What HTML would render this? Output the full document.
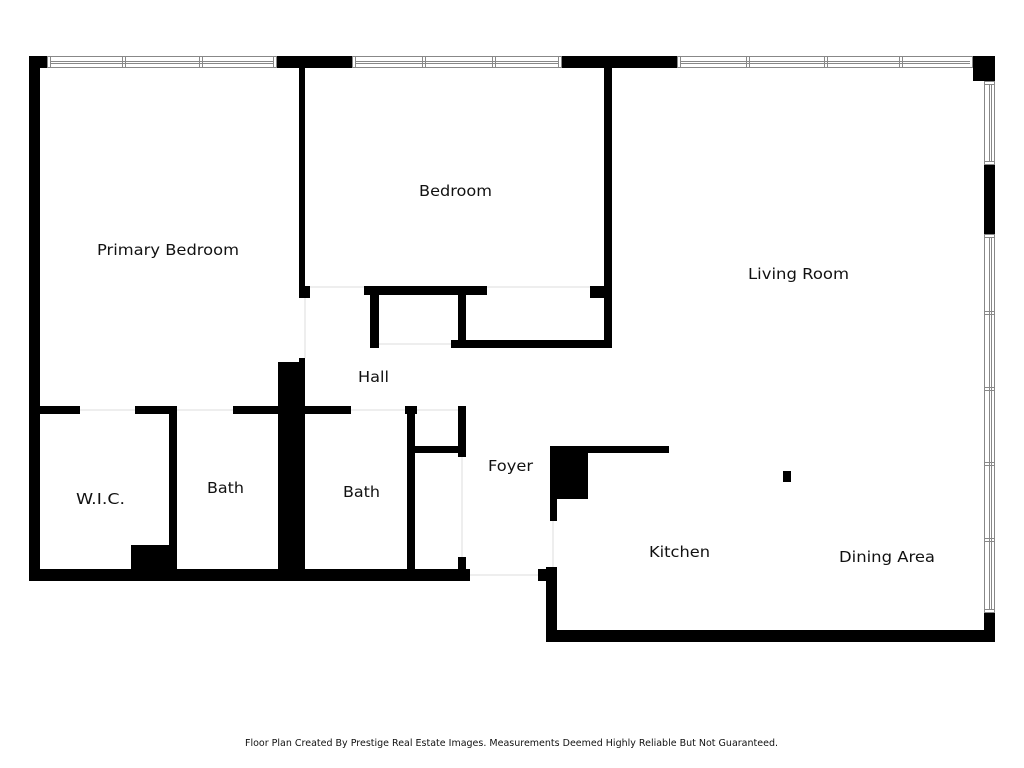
<!DOCTYPE html>
<html><head><meta charset="utf-8"><style>
html,body{margin:0;padding:0;background:#fff;}
svg{display:block;}
text{font-family:"DejaVu Sans","Liberation Sans",sans-serif;fill:#111;}
</style></head><body>
<svg width="1024" height="768" viewBox="0 0 1024 768" xmlns="http://www.w3.org/2000/svg">
<rect width="1024" height="768" fill="#fff"/>
<g fill="#000">
<!-- top wall black parts -->
<rect x="29" y="56" width="18" height="12"/>
<rect x="277" y="56" width="75" height="12"/>
<rect x="562" y="56" width="115" height="12"/>
<rect x="973" y="56" width="22" height="25"/>
<!-- right wall black -->
<rect x="984" y="165" width="11" height="69"/>
<rect x="984" y="613" width="11" height="29"/>
<!-- left wall -->
<rect x="29" y="56" width="11" height="525"/>
<!-- bottom left wall -->
<rect x="29" y="569" width="441" height="12"/>
<rect x="538" y="569" width="19" height="12"/>
<!-- kitchen walls -->
<rect x="546" y="567" width="11" height="75"/>
<rect x="546" y="630" width="449" height="12"/>
<rect x="550" y="446" width="7" height="75"/>
<rect x="550" y="446" width="38" height="53"/>
<rect x="550" y="446" width="119" height="7"/>
<rect x="783" y="471" width="8" height="11"/>
<!-- primary / bedroom divider -->
<rect x="299" y="56" width="6" height="242"/>
<rect x="299" y="286" width="11" height="12"/>
<rect x="278" y="362" width="27" height="219"/>
<rect x="299" y="358" width="6" height="10"/>
<!-- bedroom right wall -->
<rect x="604" y="56" width="8" height="292"/>
<rect x="590" y="286" width="14" height="12"/>
<!-- closet -->
<rect x="364" y="286" width="123" height="9"/>
<rect x="370" y="286" width="9" height="62"/>
<rect x="458" y="286" width="8" height="62"/>
<rect x="451" y="340" width="161" height="8"/>
<!-- horizontal wall y 406-414 -->
<rect x="40" y="406" width="40" height="8"/>
<rect x="135" y="406" width="42" height="8"/>
<rect x="169" y="406" width="8" height="175"/>
<rect x="131" y="545" width="46" height="36"/>
<rect x="233" y="406" width="45" height="8"/>
<rect x="305" y="406" width="46" height="8"/>
<rect x="405" y="406" width="12" height="8"/>
<rect x="407" y="406" width="8" height="175"/>
<rect x="458" y="406" width="8" height="51"/>
<rect x="415" y="446" width="51" height="7"/>
<rect x="458" y="557" width="8" height="12"/>
</g>
<!-- thin door lines -->
<g stroke="#ddd" stroke-width="1" fill="none">
<line x1="80" y1="410" x2="135" y2="410"/>
<line x1="177" y1="410" x2="233" y2="410"/>
<line x1="351" y1="410" x2="405" y2="410"/>
<line x1="417" y1="410" x2="458" y2="410"/>
<line x1="305" y1="298" x2="305" y2="358"/>
<line x1="310" y1="287" x2="364" y2="287"/>
<line x1="487" y1="287" x2="590" y2="287"/>
<line x1="379" y1="344" x2="451" y2="344"/>
<line x1="462" y1="457" x2="462" y2="557"/>
<line x1="470" y1="575" x2="538" y2="575"/>
<line x1="553" y1="521" x2="553" y2="567"/>
</g>
<!-- windows -->
<g fill="#fff" stroke="#888" stroke-width="1">
<rect x="47.5" y="56.5" width="229" height="11"/>
<rect x="352.5" y="56.5" width="209" height="11"/>
<rect x="677.5" y="56.5" width="295" height="11"/>
<rect x="984.5" y="81.5" width="10" height="83"/>
<rect x="984.5" y="234.5" width="10" height="378"/>
</g>
<g stroke="#888" stroke-width="1" fill="none">
<line x1="50" y1="61.5" x2="274" y2="61.5"/><line x1="50" y1="63.5" x2="274" y2="63.5"/>
<line x1="355" y1="61.5" x2="559" y2="61.5"/><line x1="355" y1="63.5" x2="559" y2="63.5"/>
<line x1="680" y1="61.5" x2="970" y2="61.5"/><line x1="680" y1="63.5" x2="970" y2="63.5"/>
<line x1="50.5" y1="57" x2="50.5" y2="67"/><line x1="273.5" y1="57" x2="273.5" y2="67"/>
<line x1="122.5" y1="57" x2="122.5" y2="67"/><line x1="125.5" y1="57" x2="125.5" y2="67"/>
<line x1="199.5" y1="57" x2="199.5" y2="67"/><line x1="202.5" y1="57" x2="202.5" y2="67"/>
<line x1="355.5" y1="57" x2="355.5" y2="67"/><line x1="558.5" y1="57" x2="558.5" y2="67"/>
<line x1="422.5" y1="57" x2="422.5" y2="67"/><line x1="425.5" y1="57" x2="425.5" y2="67"/>
<line x1="492.5" y1="57" x2="492.5" y2="67"/><line x1="495.5" y1="57" x2="495.5" y2="67"/>
<line x1="680.5" y1="57" x2="680.5" y2="67"/>
<line x1="746.5" y1="57" x2="746.5" y2="67"/><line x1="749.5" y1="57" x2="749.5" y2="67"/>
<line x1="824.5" y1="57" x2="824.5" y2="67"/><line x1="827.5" y1="57" x2="827.5" y2="67"/>
<line x1="899.5" y1="57" x2="899.5" y2="67"/><line x1="902.5" y1="57" x2="902.5" y2="67"/>
<line x1="989.5" y1="84" x2="989.5" y2="162"/><line x1="991.5" y1="84" x2="991.5" y2="162"/>
<line x1="985" y1="84.5" x2="994" y2="84.5"/><line x1="985" y1="161.5" x2="994" y2="161.5"/>
<line x1="989.5" y1="237" x2="989.5" y2="610"/><line x1="991.5" y1="237" x2="991.5" y2="610"/>
<line x1="985" y1="237.5" x2="994" y2="237.5"/><line x1="985" y1="609.5" x2="994" y2="609.5"/>
<line x1="985" y1="311.5" x2="994" y2="311.5"/><line x1="985" y1="314.5" x2="994" y2="314.5"/>
<line x1="985" y1="387.5" x2="994" y2="387.5"/><line x1="985" y1="390.5" x2="994" y2="390.5"/>
<line x1="985" y1="462.5" x2="994" y2="462.5"/><line x1="985" y1="465.5" x2="994" y2="465.5"/>
<line x1="985" y1="538.5" x2="994" y2="538.5"/><line x1="985" y1="541.5" x2="994" y2="541.5"/>
</g>
<!-- labels -->
<g font-size="15">
<text x="97" y="255" textLength="142" lengthAdjust="spacingAndGlyphs">Primary Bedroom</text>
<text x="419" y="196" textLength="73" lengthAdjust="spacingAndGlyphs">Bedroom</text>
<text x="748" y="279" textLength="101" lengthAdjust="spacingAndGlyphs">Living Room</text>
<text x="358" y="382" textLength="31" lengthAdjust="spacingAndGlyphs">Hall</text>
<text x="76" y="504" textLength="49" lengthAdjust="spacingAndGlyphs">W.I.C.</text>
<text x="207" y="493" textLength="37" lengthAdjust="spacingAndGlyphs">Bath</text>
<text x="343" y="497" textLength="37" lengthAdjust="spacingAndGlyphs">Bath</text>
<text x="488" y="471" textLength="45" lengthAdjust="spacingAndGlyphs">Foyer</text>
<text x="649" y="557" textLength="61" lengthAdjust="spacingAndGlyphs">Kitchen</text>
<text x="839" y="562" textLength="96" lengthAdjust="spacingAndGlyphs">Dining Area</text>
</g>
<text x="245" y="746" font-size="9.5" textLength="533" lengthAdjust="spacingAndGlyphs">Floor Plan Created By Prestige Real Estate Images. Measurements Deemed Highly Reliable But Not Guaranteed.</text>
</svg>
</body></html>
